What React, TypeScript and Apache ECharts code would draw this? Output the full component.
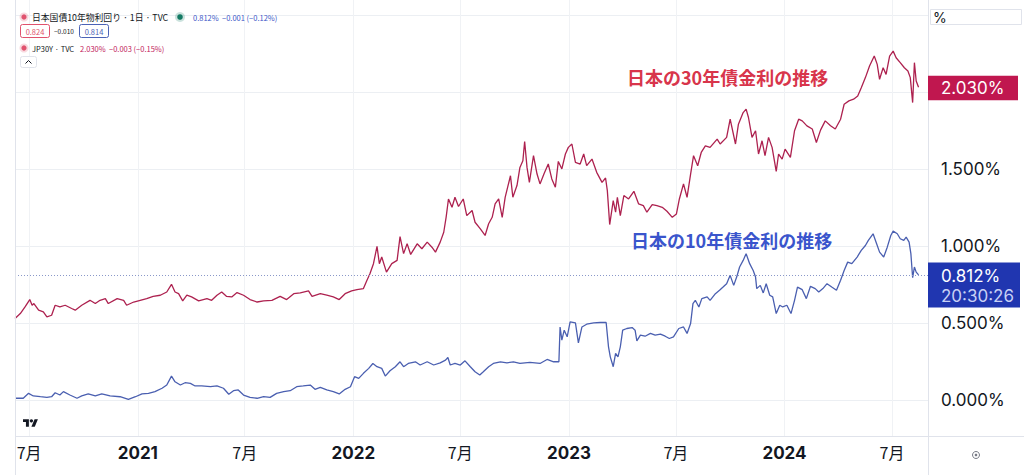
import React, { useEffect, useRef } from 'react';
import * as echarts from 'echarts';

// ---- data ----
const thirtyYearDates = [
  '2020-06-07','2020-06-16','2020-06-24','2020-07-02','2020-07-06','2020-07-09','2020-07-17','2020-07-25','2020-07-31','2020-08-08',
  '2020-08-14','2020-08-22','2020-08-31','2020-09-11','2020-09-17','2020-09-28','2020-10-12','2020-10-21','2020-10-29','2020-11-07',
  '2020-11-12','2020-11-27','2020-12-08','2020-12-13','2020-12-25','2021-01-05','2021-01-16','2021-01-27','2021-02-08','2021-02-19',
  '2021-02-27','2021-03-05','2021-03-11','2021-03-18','2021-03-25','2021-04-02','2021-04-14','2021-04-28','2021-05-06','2021-05-15',
  '2021-05-23','2021-05-31','2021-06-09','2021-06-18','2021-06-29','2021-07-10','2021-07-22','2021-08-02','2021-08-16','2021-08-30',
  '2021-09-10','2021-09-22','2021-10-03','2021-10-17','2021-10-23','2021-11-06','2021-11-17','2021-11-28','2021-12-08','2021-12-18',
  '2021-12-29','2022-01-07','2022-01-18','2022-01-24','2022-01-29','2022-02-04','2022-02-10','2022-02-14','2022-02-18','2022-02-26',
  '2022-03-07','2022-03-16','2022-03-21','2022-03-27','2022-04-02','2022-04-08','2022-04-19','2022-04-27','2022-05-06','2022-05-14',
  '2022-05-20','2022-05-28','2022-06-03','2022-06-07','2022-06-11','2022-06-17','2022-06-22','2022-06-28','2022-07-06','2022-07-12',
  '2022-07-21','2022-07-26','2022-08-04','2022-08-12','2022-08-18','2022-08-24','2022-08-29','2022-09-04','2022-09-10','2022-09-15',
  '2022-09-24','2022-09-28','2022-10-05','2022-10-10','2022-10-15','2022-10-18','2022-10-22','2022-10-26','2022-11-02','2022-11-08',
  '2022-11-13','2022-11-20','2022-11-27','2022-12-03','2022-12-09','2022-12-14','2022-12-20','2022-12-26','2022-12-31','2023-01-06',
  '2023-01-12','2023-01-20','2023-01-26','2023-01-31','2023-02-09','2023-02-17','2023-02-26','2023-03-04','2023-03-07','2023-03-11',
  '2023-03-17','2023-03-21','2023-03-24','2023-03-29','2023-04-04','2023-04-12','2023-04-21','2023-04-29','2023-05-07','2023-05-13',
  '2023-05-22','2023-05-30','2023-06-08','2023-06-16','2023-06-25','2023-07-02','2023-07-07','2023-07-14','2023-07-20','2023-07-26',
  '2023-07-31','2023-08-07','2023-08-13','2023-08-20','2023-08-28','2023-09-09','2023-09-14','2023-09-25','2023-10-01','2023-10-10',
  '2023-10-15','2023-10-23','2023-10-28','2023-11-01','2023-11-07','2023-11-13','2023-11-18','2023-11-24','2023-11-29','2023-12-05',
  '2023-12-11','2023-12-18','2023-12-22','2023-12-28','2024-01-02','2024-01-11','2024-01-18','2024-01-25','2024-01-31','2024-02-08',
  '2024-02-17','2024-02-24','2024-03-02','2024-03-10','2024-03-19','2024-03-27','2024-04-05','2024-04-11','2024-04-19','2024-04-27',
  '2024-05-04','2024-05-10','2024-05-17','2024-05-24','2024-06-01','2024-06-06','2024-06-10','2024-06-16','2024-06-21','2024-06-27',
  '2024-07-03','2024-07-08','2024-07-15','2024-07-22','2024-07-28','2024-08-01','2024-08-05','2024-08-08','2024-08-11','2024-08-15',
];
const thirtyYearYields = [
  0.529,0.561,0.604,0.652,0.615,0.626,0.583,0.572,0.539,0.55,
  0.615,0.604,0.615,0.594,0.583,0.615,0.647,0.626,0.647,0.658,
  0.626,0.658,0.647,0.615,0.636,0.647,0.658,0.673,0.68,0.701,
  0.751,0.701,0.69,0.643,0.68,0.669,0.643,0.658,0.647,0.68,
  0.701,0.673,0.669,0.697,0.68,0.652,0.636,0.643,0.647,0.673,
  0.652,0.69,0.695,0.708,0.673,0.69,0.68,0.669,0.652,0.69,
  0.708,0.716,0.723,0.777,0.82,0.885,0.997,0.885,0.928,0.83,
  0.885,0.906,1.061,0.95,1.014,0.945,1.014,0.982,1.025,0.992,
  0.96,1.025,1.089,1.186,1.305,1.251,1.316,1.256,1.305,1.197,
  1.23,1.154,1.111,1.068,1.144,1.186,1.273,1.305,1.186,1.316,
  1.456,1.316,1.392,1.51,1.553,1.678,1.51,1.413,1.586,1.467,
  1.403,1.471,1.532,1.435,1.381,1.549,1.5,1.597,1.64,1.662,
  1.542,1.532,1.597,1.521,1.564,1.478,1.413,1.441,1.359,1.139,
  1.294,1.219,1.316,1.197,1.327,1.305,1.355,1.273,1.262,1.219,
  1.269,1.262,1.251,1.225,1.186,1.208,1.305,1.403,1.316,1.467,
  1.586,1.521,1.607,1.65,1.64,1.694,1.662,1.705,1.823,1.662,
  1.791,1.866,1.888,1.834,1.705,1.748,1.597,1.683,1.586,1.705,
  1.64,1.484,1.597,1.564,1.629,1.575,1.748,1.823,1.812,1.78,
  1.759,1.672,1.752,1.812,1.78,1.759,1.823,1.92,1.942,1.953,
  1.974,2.028,2.093,2.168,2.233,2.179,2.082,2.157,2.114,2.233,
  2.265,2.222,2.19,2.157,2.136,2.093,1.931,2.19,2.071,2.03,
];

const tenYearDates = [
  '2020-06-07','2020-06-21','2020-06-30','2020-07-08','2020-07-20','2020-07-31','2020-08-08','2020-08-14','2020-08-22','2020-08-28',
  '2020-09-08','2020-09-20','2020-09-28','2020-10-09','2020-10-21','2020-11-01','2020-11-15','2020-12-02','2020-12-16','2020-12-28',
  '2021-01-08','2021-01-19','2021-01-30','2021-02-11','2021-02-19','2021-02-27','2021-03-05','2021-03-14','2021-03-22','2021-03-31',
  '2021-04-08','2021-04-19','2021-05-04','2021-05-15','2021-05-26','2021-06-04','2021-06-12','2021-06-20','2021-06-29','2021-07-10',
  '2021-07-22','2021-08-02','2021-08-13','2021-08-24','2021-09-05','2021-09-16','2021-09-27','2021-10-08','2021-10-20','2021-10-28',
  '2021-11-06','2021-11-17','2021-11-28','2021-12-08','2021-12-18','2021-12-27','2022-01-03','2022-01-10','2022-01-18','2022-01-27',
  '2022-02-03','2022-02-10','2022-02-18','2022-02-24','2022-03-04','2022-03-13','2022-03-21','2022-03-27','2022-04-04','2022-04-16',
  '2022-04-24','2022-05-06','2022-05-17','2022-05-28','2022-06-06','2022-06-10','2022-06-14','2022-06-22','2022-07-01','2022-07-09',
  '2022-07-18','2022-07-26','2022-08-03','2022-08-09','2022-08-18','2022-08-26','2022-09-07','2022-09-18','2022-09-29','2022-10-10',
  '2022-10-27','2022-11-13','2022-11-25','2022-12-06','2022-12-15','2022-12-17','2022-12-20','2022-12-24','2022-12-29','2023-01-03',
  '2023-01-12','2023-01-17','2023-01-23','2023-01-31','2023-02-12','2023-02-23','2023-03-05','2023-03-09','2023-03-12','2023-03-17',
  '2023-03-21','2023-03-25','2023-03-29','2023-04-02','2023-04-09','2023-04-18','2023-04-23','2023-04-26','2023-05-02','2023-05-10',
  '2023-05-19','2023-05-27','2023-06-05','2023-06-13','2023-06-20','2023-06-27','2023-07-06','2023-07-14','2023-07-20','2023-07-26',
  '2023-07-30','2023-08-03','2023-08-09','2023-08-14','2023-08-23','2023-08-28','2023-09-06','2023-09-13','2023-09-19','2023-09-25',
  '2023-10-01','2023-10-07','2023-10-12','2023-10-17','2023-10-23','2023-10-28','2023-11-03','2023-11-09','2023-11-13','2023-11-15',
  '2023-11-21','2023-11-26','2023-12-01','2023-12-07','2023-12-12','2023-12-18','2023-12-24','2023-12-29','2024-01-05','2024-01-12',
  '2024-01-18','2024-01-23','2024-01-31','2024-02-07','2024-02-14','2024-02-22','2024-02-28','2024-03-06','2024-03-13','2024-03-21',
  '2024-03-29','2024-04-05','2024-04-11','2024-04-17','2024-04-24','2024-05-03','2024-05-10','2024-05-17','2024-05-22','2024-05-30',
  '2024-06-05','2024-06-10','2024-06-17','2024-06-23','2024-06-29','2024-07-03','2024-07-10','2024-07-15','2024-07-21','2024-07-25',
  '2024-07-30','2024-08-02','2024-08-05','2024-08-08','2024-08-11','2024-08-15',
];
const tenYearYields = [
  0.011,0.011,0.043,0.026,0.021,0.017,0.021,0.047,0.032,0.054,
  0.032,0.011,0.026,0.039,0.026,0.039,0.026,0.021,0.004,0.021,
  0.039,0.043,0.054,0.076,0.097,0.155,0.118,0.097,0.112,0.108,
  0.091,0.091,0.086,0.091,0.076,0.037,0.06,0.065,0.032,0.017,
  0.011,0.021,0.017,0.043,0.054,0.06,0.086,0.091,0.097,0.069,
  0.082,0.065,0.054,0.039,0.069,0.086,0.151,0.14,0.173,0.205,
  0.237,0.216,0.205,0.155,0.19,0.216,0.248,0.216,0.237,0.248,
  0.227,0.248,0.227,0.241,0.259,0.276,0.227,0.237,0.227,0.254,
  0.216,0.183,0.162,0.183,0.216,0.237,0.248,0.241,0.248,0.237,
  0.244,0.237,0.263,0.248,0.248,0.474,0.388,0.453,0.41,0.507,
  0.5,0.371,0.474,0.492,0.5,0.503,0.503,0.345,0.28,0.216,
  0.302,0.28,0.345,0.453,0.464,0.47,0.453,0.384,0.421,0.414,
  0.432,0.421,0.427,0.414,0.399,0.41,0.464,0.474,0.432,0.496,
  0.626,0.647,0.604,0.658,0.669,0.647,0.69,0.712,0.733,0.755,
  0.809,0.744,0.798,0.863,0.906,0.95,0.885,0.841,0.798,0.723,
  0.744,0.695,0.755,0.68,0.669,0.561,0.615,0.604,0.615,0.561,
  0.647,0.733,0.716,0.658,0.738,0.723,0.701,0.723,0.755,0.733,
  0.712,0.777,0.841,0.895,0.885,0.928,0.971,1.003,1.036,1.079,
  1.014,0.96,0.928,0.992,1.068,1.096,1.079,1.047,1.036,1.057,
  1.025,0.95,0.794,0.863,0.83,0.812,
];

const xTickDates = ['2020-07-01','2021-01-01','2021-07-01','2022-01-01','2022-07-01','2023-01-01','2023-07-01','2024-01-01','2024-07-01'];
const yGridValues = [0, 0.5, 1, 1.5, 2, 2.5];
const yLabelValues = [0, 0.5, 1, 1.5];
const X_MIN = '2020-06-07';
const X_MAX = '2024-08-31';
const Y_MIN = -0.234;
const Y_MAX = 2.597;
const LAST_30Y = 2.03;
const LAST_10Y = 0.812;
const LAST_TIME = '20:30:26';

const RED_LINE = '#ad214f';
const BLUE_LINE = '#4a5fb0';
const INK = '#131722';
const BORDER = '#e0e3eb';

function toTs(d: string) {
  const [y, m, day] = d.split('-').map(Number);
  return Date.UTC(y, m - 1, day);
}

export default function App() {
  const ref = useRef<HTMLDivElement>(null);

  useEffect(() => {
    document.body.style.margin = '0';
    const chart = echarts.init(ref.current!, null, { renderer: 'svg' });
    const xTicks = xTickDates.map(toTs);

    chart.setOption({
      animation: false,
      backgroundColor: '#ffffff',
      grid: { left: 15, right: 96, top: 0, bottom: 39, containLabel: false },
      xAxis: {
        type: 'value',
        min: toTs(X_MIN),
        max: toTs(X_MAX),
        axisLine: { show: false },
        axisTick: { show: false, customValues: xTicks },
        splitLine: { show: true, lineStyle: { color: '#f0f2f5', width: 1 } },
        axisLabel: {
          customValues: xTicks,
          margin: 8,
          formatter: (v: number) => {
            const d = new Date(v);
            return d.getUTCMonth() === 0
              ? '{y|' + d.getUTCFullYear() + '}'
              : '{m|' + (d.getUTCMonth() + 1) + '月}';
          },
          rich: {
            y: { fontFamily: 'Inter, sans-serif', fontWeight: 'bold', fontSize: 17, color: INK },
            m: { fontFamily: '"Noto Sans CJK JP", Inter, sans-serif', fontSize: 16, color: INK },
          },
        },
      },
      yAxis: {
        type: 'value',
        position: 'right',
        min: Y_MIN,
        max: Y_MAX,
        axisLine: { show: false },
        axisTick: { show: false, customValues: yGridValues },
        splitLine: { show: true, lineStyle: { color: '#eceff3', width: 1 } },
        axisLabel: {
          customValues: yLabelValues,
          formatter: (v: number) => v.toFixed(3) + '%',
          color: INK,
          fontFamily: 'Inter, sans-serif',
          fontSize: 17,
          margin: 13,
        },
      },
      series: [
        {
          type: 'line',
          name: 'JP30Y',
          data: thirtyYearDates.map((d, i) => [toTs(d), thirtyYearYields[i]]),
          showSymbol: false,
          silent: true,
          lineStyle: { color: RED_LINE, width: 1.3 },
          itemStyle: { color: RED_LINE },
          z: 3,
        },
        {
          type: 'line',
          name: 'JP10Y',
          data: tenYearDates.map((d, i) => [toTs(d), tenYearYields[i]]),
          showSymbol: false,
          silent: true,
          lineStyle: { color: BLUE_LINE, width: 1.3 },
          itemStyle: { color: BLUE_LINE },
          z: 3,
          markLine: {
            silent: true,
            symbol: ['none', 'none'],
            label: { show: false },
            lineStyle: { type: [1, 2], color: '#8a98c9', width: 1 },
            data: [{ yAxis: LAST_10Y }],
          },
        },
      ],
    });

    const right = chart.convertToPixel({ xAxisIndex: 0 }, toTs(X_MAX)) as number;
    const left = chart.convertToPixel({ xAxisIndex: 0 }, toTs(X_MIN)) as number;
    const bottom = chart.convertToPixel({ yAxisIndex: 0 }, Y_MIN) as number;
    const yRed = chart.convertToPixel({ yAxisIndex: 0 }, LAST_30Y) as number;
    const yBlue = chart.convertToPixel({ yAxisIndex: 0 }, LAST_10Y) as number;

    const smallFont = (size: number, weight = 'normal') =>
      `${weight} ${size}px "Noto Sans CJK JP", Inter, sans-serif`;

    chart.setOption({
      graphic: [
        { type: 'line', z: 50, shape: { x1: left + 0.5, y1: 0, x2: left + 0.5, y2: 475 }, style: { stroke: BORDER, lineWidth: 1 } },
        { type: 'line', z: 50, shape: { x1: right + 0.5, y1: 0, x2: right + 0.5, y2: 475 }, style: { stroke: BORDER, lineWidth: 1 } },
        { type: 'line', z: 50, shape: { x1: left, y1: bottom + 0.5, x2: 1024, y2: bottom + 0.5 }, style: { stroke: BORDER, lineWidth: 1 } },

        { type: 'circle', z: 60, shape: { cx: 24, cy: 17, r: 4.5 }, style: { fill: 'rgba(224,82,110,0.22)' } },
        { type: 'circle', z: 61, shape: { cx: 24, cy: 17, r: 2.6 }, style: { fill: '#e0526e' } },
        { type: 'text', z: 60, x: 32, y: 17, style: { text: '日本国債10年物利回り · 1日 · TVC', fill: INK, font: smallFont(8.8), textVerticalAlign: 'middle' } },
        { type: 'circle', z: 60, shape: { cx: 180, cy: 17, r: 5 }, style: { fill: 'rgba(20,122,100,0.22)' } },
        { type: 'circle', z: 61, shape: { cx: 180, cy: 17, r: 2.8 }, style: { fill: '#147a64' } },
        { type: 'text', z: 60, x: 193, y: 17, style: { text: '0.812%  −0.001 (−0.12%)', fill: '#3b55c7', font: smallFont(7.5), textVerticalAlign: 'middle' } },

        { type: 'rect', z: 60, shape: { x: 20.5, y: 24.5, width: 29, height: 13, r: 2 }, style: { fill: '#fff', stroke: '#e0526e', lineWidth: 1 } },
        { type: 'text', z: 61, x: 35, y: 31, style: { text: '0.824', fill: '#e0526e', font: smallFont(7.5), textAlign: 'center', textVerticalAlign: 'middle' } },
        { type: 'text', z: 60, x: 54, y: 31, style: { text: '−0.010', fill: INK, font: smallFont(6.5), textVerticalAlign: 'middle' } },
        { type: 'rect', z: 60, shape: { x: 79.5, y: 24.5, width: 29, height: 13, r: 2 }, style: { fill: '#fff', stroke: '#4c63b6', lineWidth: 1 } },
        { type: 'text', z: 61, x: 94, y: 31, style: { text: '0.814', fill: '#4c63b6', font: smallFont(7.5), textAlign: 'center', textVerticalAlign: 'middle' } },

        { type: 'circle', z: 60, shape: { cx: 24, cy: 48, r: 4.5 }, style: { fill: 'rgba(224,82,110,0.22)' } },
        { type: 'circle', z: 61, shape: { cx: 24, cy: 48, r: 2.6 }, style: { fill: '#e0526e' } },
        { type: 'text', z: 60, x: 32, y: 48, style: { text: 'JP30Y · TVC', fill: INK, font: smallFont(7.5), textVerticalAlign: 'middle' } },
        { type: 'text', z: 60, x: 80, y: 48, style: { text: '2.030%  −0.003 (−0.15%)', fill: '#c2185b', font: smallFont(7.5), textVerticalAlign: 'middle' } },

        { type: 'rect', z: 60, shape: { x: 20.5, y: 56.5, width: 16, height: 11, r: 2 }, style: { fill: '#fff', stroke: BORDER, lineWidth: 1 } },
        { type: 'polyline', z: 61, shape: { points: [[25.5, 63.5], [28.5, 60.5], [31.5, 63.5]] }, style: { stroke: INK, lineWidth: 1, fill: 'none' } },

        { type: 'text', z: 60, x: 627, y: 77, style: { text: '日本の30年債金利の推移', fill: '#d8354b', font: smallFont(18, 'bold'), textVerticalAlign: 'middle' } },
        { type: 'text', z: 60, x: 631, y: 240, style: { text: '日本の10年債金利の推移', fill: '#3a55cc', font: smallFont(18, 'bold'), textVerticalAlign: 'middle' } },

        { type: 'rect', z: 70, shape: { x: right, y: yRed - 11.5, width: 90, height: 24.5 }, style: { fill: '#c0174f' } },
        { type: 'text', z: 71, x: right + 13, y: yRed + 1, style: { text: LAST_30Y.toFixed(3) + '%', fill: '#ffffff', font: 'normal 17px Inter, sans-serif', textVerticalAlign: 'middle' } },
        { type: 'rect', z: 70, shape: { x: right, y: yBlue - 12.5, width: 92, height: 45 }, style: { fill: '#2036b0' } },
        { type: 'text', z: 71, x: right + 13, y: yBlue + 1, style: { text: LAST_10Y.toFixed(3) + '%', fill: '#ffffff', font: 'normal 17px Inter, sans-serif', textVerticalAlign: 'middle' } },
        { type: 'text', z: 71, x: right + 13, y: yBlue + 21, style: { text: LAST_TIME, fill: '#c8d0f5', font: 'normal 17px Inter, sans-serif', textVerticalAlign: 'middle' } },

        { type: 'rect', z: 60, shape: { x: right + 2.5, y: 9.5, width: 91, height: 15 }, style: { fill: '#fff', stroke: BORDER, lineWidth: 1 } },
        { type: 'text', z: 61, x: right + 5, y: 17, style: { text: '%', fill: INK, font: 'normal 14px Inter, sans-serif', textVerticalAlign: 'middle' } },

        {
          type: 'group', z: 60, x: 23, y: 417.5, scaleX: 0.42, scaleY: 0.42,
          children: [
            { type: 'polygon', shape: { points: [[0, 4], [14, 4], [14, 22], [7, 22], [7, 11], [0, 11]] }, style: { fill: INK } },
            { type: 'circle', shape: { cx: 20, cy: 8, r: 4 }, style: { fill: INK } },
            { type: 'polygon', shape: { points: [[20, 22], [27.5, 4], [35.5, 4], [28, 22]] }, style: { fill: INK } },
          ],
        },

        { type: 'circle', z: 60, shape: { cx: 976, cy: 455, r: 3.5 }, style: { fill: 'none', stroke: '#787b86', lineWidth: 1 } },
        { type: 'circle', z: 60, shape: { cx: 976, cy: 455, r: 1.3 }, style: { fill: '#787b86' } },
      ],
    });

    return () => chart.dispose();
  }, []);

  return (
    <div
      ref={ref}
      style={{ position: 'fixed', left: 0, top: 0, width: 1024, height: 475, background: '#fff' }}
    />
  );
}
